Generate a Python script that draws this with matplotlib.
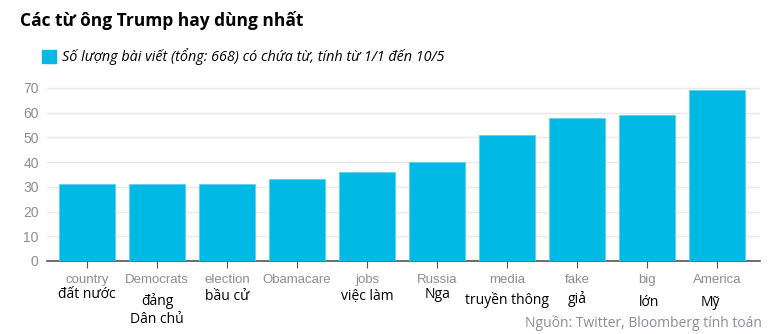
import numpy as np
import matplotlib
import matplotlib.pyplot as plt
import matplotlib.transforms as mtransforms

matplotlib.use("Agg")

words_en = ['country', 'Democrats', 'election', 'Obamacare', 'jobs',
            'Russia', 'media', 'fake', 'big', 'America']
words_vi = ['đất nước', 'đảng\nDân chủ', 'bầu cử', '', 'việc làm',
            'Nga', 'truyền thông', 'giả', 'lớn', 'Mỹ']
counts = [31, 31, 31, 33, 36, 40, 51, 58, 59, 69]
yticks = [0, 10, 20, 30, 40, 50, 60, 70]

# pixel heights (from top) of the Vietnamese labels, hand placed
vi_y = [295, 310, 297, 297, 297, 295, 300, 299, 303, 302]
vi_dx = [0, 0, 0, 0, 0, 0, 0, 0, 0.02, -0.1]

W, H = 771, 334
bar_color = '#00b9e4'
grey = '#8c8c96'

plt.rcParams['font.family'] = ['Open Sans', 'DejaVu Sans']
fig = plt.figure(figsize=(W / 100, H / 100), dpi=100)
ax = fig.add_axes([47 / W, 1 - 261 / H, (760 - 47) / W, (261 - 83) / H])

x = np.arange(len(counts))
ax.bar(x, counts, width=0.8, color=bar_color, edgecolor='#5fd0ee', linewidth=0.6, zorder=3)
ax.set_xlim(-0.57, len(counts) - 1 + 0.61)
ax.set_ylim(0, 72)
ax.set_yticks(yticks)
ax.set_yticklabels([str(v) for v in yticks], color=grey, fontsize=10, family=['Liberation Sans', 'DejaVu Sans'])
ax.yaxis.grid(True, color='#e8e8e8', linewidth=1, zorder=0)
ax.tick_params(axis='y', length=0, pad=6)
ax.set_xticks(x)
ax.set_xticklabels(words_en, color=grey, fontsize=9.5, family=['Liberation Sans', 'DejaVu Sans'])
ax.tick_params(axis='x', length=5, color='#555555', pad=4.5)
for s in ['top', 'right', 'left']:
    ax.spines[s].set_visible(False)
ax.spines['bottom'].set_color('#555555')
ax.spines['bottom'].set_linewidth(1.2)

trans = mtransforms.blended_transform_factory(ax.transData, fig.transFigure)
for i, lab in enumerate(words_vi):
    if lab:
        ax.text(i + vi_dx[i], 1 - vi_y[i] / H, lab, transform=trans, ha='center', va='center',
                fontsize=10, color='black', linespacing=1.3)

fig.text(20 / W, 1 - 20 / H, 'Các từ ông Trump hay dùng nhất', fontsize=12.5,
         fontweight='bold', va='center', ha='left')
fig.patches.append(plt.Rectangle((42 / W, 1 - 63 / H), 14 / W, 13 / H,
                                 transform=fig.transFigure, color=bar_color))
fig.text(62 / W, 1 - 57 / H, 'Số lượng bài viết (tổng: 668) có chứa từ, tính từ 1/1 đến 10/5',
         fontsize=10.4, style='italic', va='center', ha='left')
fig.text(762 / W, 1 - 323 / H, 'Nguồn: Twitter, Bloomberg tính toán', fontsize=10,
         color=grey, va='center', ha='right')

fig.savefig('out.png', dpi=100)
